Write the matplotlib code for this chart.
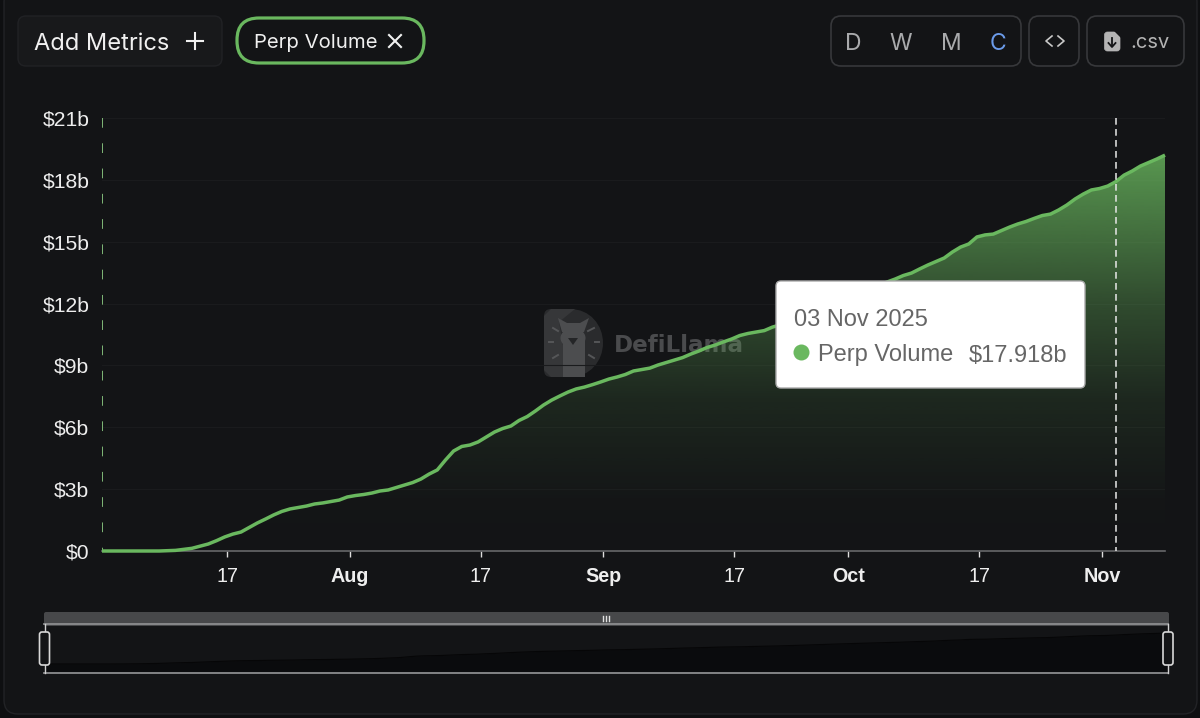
#!/usr/bin/env python3
import numpy as np
import pandas as pd
import matplotlib as mpl
mpl.use("Agg")
import matplotlib.pyplot as plt
import matplotlib.dates as mdates
from matplotlib.patches import FancyBboxPatch, PathPatch, Polygon, Circle, Ellipse
from matplotlib.path import Path

# cumulative perp volume, $b
jul_days = [2, 9, 11, 13, 15, 16, 17, 18, 19, 20, 21, 22, 23, 24, 25, 26, 27, 28, 29, 30, 31]
jul_vals = [0, 0, 0.03, 0.13, 0.34, 0.50, 0.68, 0.82, 0.92, 1.14, 1.36, 1.55, 1.75, 1.92, 2.04,
            2.11, 2.18, 2.28, 2.33, 2.40, 2.47]
aug_days = list(range(1, 32))
aug_vals = [2.62, 2.69, 2.74, 2.81, 2.91, 2.96, 3.08, 3.20, 3.32, 3.49, 3.73, 3.93, 4.41, 4.85,
            5.07, 5.14, 5.29, 5.53, 5.77, 5.94, 6.06, 6.33, 6.52, 6.79, 7.08, 7.32, 7.52, 7.71,
            7.86, 7.95, 8.07]
sep_days = list(range(1, 23)) + [25, 28]
sep_vals = [8.20, 8.34, 8.44, 8.56, 8.73, 8.80, 8.87, 9.02, 9.14, 9.26, 9.38, 9.55, 9.70, 9.87,
            9.99, 10.14, 10.28, 10.45, 10.55, 10.62, 10.69, 10.86, 11.2, 11.7]
oct_days = [1, 4] + list(range(7, 32))
oct_vals = [12.25, 12.75, 13.19, 13.36, 13.48, 13.68, 13.87, 14.04, 14.21, 14.50, 14.74, 14.89,
            15.23, 15.33, 15.37, 15.54, 15.71, 15.86, 15.98, 16.13, 16.27, 16.34, 16.54, 16.78,
            17.07, 17.31, 17.51]
nov_days = list(range(1, 10))
nov_vals = [17.58, 17.70, 17.918, 18.23, 18.43, 18.67, 18.84, 19.01, 19.20]

y_ticks = [0, 3, 6, 9, 12, 15, 18, 21]
y_labels = ["$0", "$3b", "$6b", "$9b", "$12b", "$15b", "$18b", "$21b"]
x_ticks = ["2025-07-17", "2025-08-01", "2025-08-17", "2025-09-01", "2025-09-17",
           "2025-10-01", "2025-10-17", "2025-11-01"]
x_labels = ["17", "Aug", "17", "Sep", "17", "Oct", "17", "Nov"]
hover_date = "2025-11-03"
hover_title = "03 Nov 2025"
series_name = "Perp Volume"
hover_value = "$17.918b"

PAGE = "#0e0f11"
CARD = "#131416"
GREEN = "#6ab85f"
SANS = "Liberation Sans"
UI = "Inter"
W, H = 1200, 718

dates = []
for month, days in [(7, jul_days), (8, aug_days), (9, sep_days), (10, oct_days), (11, nov_days)]:
    dates += [pd.Timestamp(2025, month, d) for d in days]
volume = np.array(jul_vals + aug_vals + sep_vals + oct_vals + nov_vals)
# the chart samples sit a few hours before local midnight
x_vals = mdates.date2num(pd.DatetimeIndex(dates) - pd.Timedelta(hours=7))


def pixel_axes(fig, zorder):
    ax = fig.add_axes([0, 0, 1, 1], zorder=zorder)
    ax.set_xlim(0, W)
    ax.set_ylim(H, 0)
    ax.axis("off")
    ax.patch.set_alpha(0)
    return ax


def box(ax, x0, y0, x1, y1, r, fc, ec, lw=1.0, **kw):
    ax.add_patch(FancyBboxPatch((x0 + r, y0 + r), x1 - x0 - 2 * r, y1 - y0 - 2 * r,
                                boxstyle=f"round,pad={r},rounding_size={r}",
                                fc=fc, ec=ec, lw=lw, **kw))


def axes_px(fig, x0, y0, x1, y1, zorder):
    return fig.add_axes([x0 / W, 1 - y1 / H, (x1 - x0) / W, (y1 - y0) / H], zorder=zorder)


fig = plt.figure(figsize=(W / 100, H / 100), dpi=100, facecolor=PAGE)

# --- card, buttons, watermark (under the chart)
bg = pixel_axes(fig, 0)
box(bg, 4, -12, 1197, 714, 14, CARD, "#222326", 1.0)

box(bg, 18, 16, 222, 66, 8, "#18191b", "#212225", 1.0)
bg.text(34, 41, "Add Metrics", family=UI, fontsize=17, color="#f0f0f0", va="center_baseline")
bg.plot([187, 203], [41, 41], color="#f0f0f0", lw=1.5)
bg.plot([195, 195], [33, 49], color="#f0f0f0", lw=1.5)

box(bg, 237, 18, 424, 63, 22, CARD, GREEN, 2.3)
bg.text(254, 41, series_name, family=UI, fontsize=14.6, color="#f0f0f0", va="center_baseline")
bg.plot([389, 401], [35, 47], color="#f0f0f0", lw=1.5)
bg.plot([389, 401], [47, 35], color="#f0f0f0", lw=1.5)

box(bg, 831, 16, 1021, 66, 10, CARD, "#37383b", 1.2)
for label, px, col in [("D", 853.5, "#a9aaac"), ("W", 901, "#a9aaac"),
                       ("M", 951, "#a9aaac"), ("C", 998, "#6b9bea")]:
    bg.text(px, 41, label, family=UI, fontsize=16.5, color=col, ha="center", va="center_baseline")
box(bg, 1029, 16, 1079, 66, 10, CARD, "#37383b", 1.2)
bg.plot([1052, 1046, 1052], [36, 41, 46], color="#c8c8c8", lw=1.2)
bg.plot([1058, 1064, 1058], [36, 41, 46], color="#c8c8c8", lw=1.2)
box(bg, 1087, 16, 1184, 66, 10, CARD, "#37383b", 1.2)
box(bg, 1104.5, 32, 1120, 51, 3, "#b4b4b4", "#b4b4b4", 0.5)
bg.add_patch(Polygon([(1114, 31), (1121, 31), (1121, 38)], fc=CARD, ec="none"))
bg.plot([1112, 1112], [38, 46], color=CARD, lw=1.3)
bg.plot([1108.5, 1112, 1115.5], [43, 47, 43], color=CARD, lw=1.3)
bg.text(1130, 41, ".csv", family=UI, fontsize=14.5, color="#b4b4b4", va="center_baseline")

# watermark
d_shape = Path([(551, 309), (570, 309), (590, 309), (603, 325), (603, 343), (603, 361), (590, 377),
                (570, 377), (551, 377), (544, 377), (544, 370), (544, 316), (544, 309), (551, 309)],
               [Path.MOVETO, Path.LINETO, Path.CURVE4, Path.CURVE4, Path.CURVE4, Path.CURVE4, Path.CURVE4,
                Path.CURVE4, Path.LINETO, Path.CURVE3, Path.CURVE3, Path.LINETO, Path.CURVE3, Path.CURVE3])
bg.add_patch(PathPatch(d_shape, fc="#2a2b2d", ec="none"))
bg.add_patch(Polygon([(544, 316), (551, 309), (575, 309), (559, 322), (563, 345), (563, 377),
                      (551, 377), (544, 370)], fc="#363739", ec="none"))
# llama: ears, head, neck
bg.add_patch(Polygon([(558, 318), (567, 323), (580, 323), (589, 318), (584, 332), (562, 332)],
                     fc="#4c4d4f", ec="none"))
bg.add_patch(Ellipse((573, 338), 25, 20, fc="#4c4d4f", ec="none"))
bg.add_patch(Polygon([(563, 340), (585, 340), (585, 377), (563, 377)], fc="#4c4d4f", ec="none"))
bg.add_patch(Polygon([(568, 338), (578, 338), (573, 345)], fc="#242527", ec="none"))
for xs, ys in [((553, 558), (328, 331)), ((588, 594), (331, 328)), ((549, 553), (342, 342)),
               ((595, 599), (342, 342)), ((553, 558), (358, 355)), ((589, 594), (355, 358))]:
    bg.plot(xs, ys, color="#555658", lw=1.4)
bg.text(614, 345, "DefiLlama", family="DejaVu Sans", weight="bold", fontsize=16.6,
        color="#4a4b4d", va="center")

# --- main chart
ax = axes_px(fig, 102, 118, 1165, 551, 2)
ax.patch.set_alpha(0)
ax.set_xlim(x_vals[0], x_vals[-1])
ax.set_ylim(0, 21)

grad_y = np.linspace(0, 19.2, 256)
grad = np.zeros((256, 1, 4))
grad[..., :3] = mpl.colors.to_rgb(GREEN)
grad[:, 0, 3] = np.interp(grad_y, [0, 2.5, 7.3, 12, 19.2], [0, 0.015, 0.12, 0.34, 0.80])
img = ax.imshow(grad, origin="lower", aspect="auto", interpolation="bilinear",
                extent=(x_vals[0], x_vals[-1], 0, 19.2), zorder=1)
ax.set_xlim(x_vals[0], x_vals[-1])
ax.set_ylim(0, 21)
area = ax.fill_between(x_vals, volume, 0, color="none", lw=0)
img.set_clip_path(area.get_paths()[0], ax.transData)

ax.set_yticks(y_ticks)
ax.set_yticklabels(y_labels, family=SANS, fontsize=15.2, color="#eeeeee")
ax.grid(axis="y", color="#1a1b1d", lw=0.8, zorder=0)
ax.set_axisbelow(True)
ax.tick_params(axis="y", length=0, pad=9)
ax.set_xticks(mdates.date2num(pd.to_datetime(x_ticks)))
ax.set_xticklabels(x_labels, family=SANS, fontsize=14.2, color="#eeeeee")
for tl, name in zip(ax.get_xticklabels(), x_labels):
    if not name.isdigit():
        tl.set_fontweight("bold")
ax.tick_params(axis="x", length=4.5, width=1.0, color="#dddddd", pad=7)
for side in ["top", "right", "left"]:
    ax.spines[side].set_visible(False)
ax.spines["bottom"].set_color("#66676a")
ax.spines["bottom"].set_linewidth(1.2)

ax.plot(x_vals, volume, color=GREEN, lw=2.5, clip_on=False, zorder=3, solid_capstyle="butt")
ax.plot([x_vals[0], x_vals[0]], [21, 0], color="#7fb877", lw=1.4, dashes=(5, 8), zorder=2)
cross_x = mdates.date2num(pd.Timestamp(hover_date) - pd.Timedelta(hours=7))
ax.plot([cross_x, cross_x], [21, 0], color="#e8e8e8", lw=1.1, dashes=(4.4, 2.8), zorder=4)

# --- tooltip and range slider (over the chart)
top = pixel_axes(fig, 5)
box(top, 776, 281, 1085, 388, 5, "#ffffff", "#aaaaaa", 1.0)
top.text(794, 317, hover_title, family=SANS, fontsize=17, color="#666666", va="center_baseline")
top.add_patch(Circle((801.5, 352.5), 8, fc=GREEN, ec="none"))
top.text(818, 353, series_name, family=SANS, fontsize=17, color="#666666", va="center_baseline")
top.text(1067, 353, hover_value, family=SANS, fontsize=17, color="#666666", ha="right",
         va="center_baseline")

box(top, 44, 612, 1169, 626, 2, "#47484a", "none")
for px in [603, 606, 609]:
    top.plot([px, px], [616, 621], color="#e0e0e0", lw=1.0)

mini = axes_px(fig, 45, 624, 1167, 673, 4)
mini.axis("off")
mini.set_xlim(x_vals[0], x_vals[-1])
mini.set_ylim(-5.6, 24.8)
mini.fill_between(x_vals, volume, -5.6, color="#0a0b0d", lw=0)
mini.plot(x_vals, volume, color="#060607", lw=0.8)

top.plot([44, 1168], [624, 624], color="#8c8d8f", lw=1.3)
top.plot([44, 1168], [673, 673], color="#8c8d8f", lw=1.3)
for px in [44.5, 1168]:
    top.plot([px, px], [624, 673], color="#d0d0d0", lw=1.0)
    box(top, px - 5, 632, px + 5, 665, 2.5, CARD, "#d8d8d8", 1.2, zorder=6)

fig.savefig("out.png", dpi=100, facecolor=PAGE)
